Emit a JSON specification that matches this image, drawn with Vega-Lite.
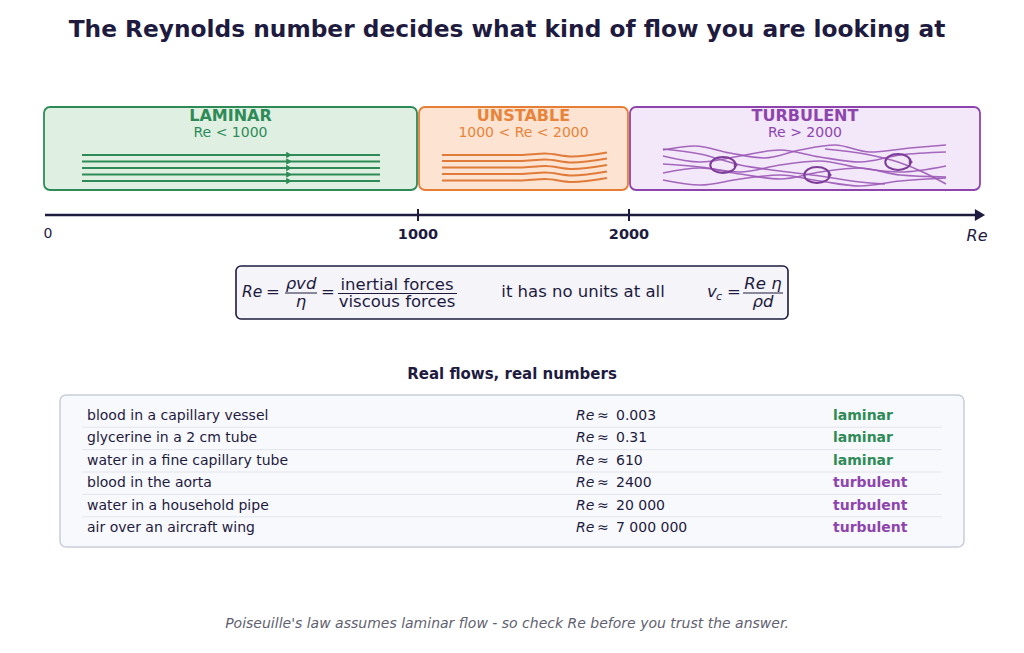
{
  "$schema": "https://vega.github.io/schema/vega-lite/v6.json",
  "width": 1024,
  "height": 653,
  "padding": 0,
  "autosize": {"type": "none"},
  "background": "#ffffff",
  "config": {"view": {"stroke": null}, "font": "DejaVu Sans", "text": {"font": "DejaVu Sans", "baseline": "middle"}},
  "datasets": {
    "regimes": [
      {"regime": "LAMINAR", "condition": "Re < 1000", "lo": 0, "hi": 1000, "mid": 500},
      {"regime": "UNSTABLE", "condition": "1000 < Re < 2000", "lo": 1000, "hi": 2000, "mid": 1500},
      {"regime": "TURBULENT", "condition": "Re > 2000", "lo": 2000, "hi": 3000, "mid": 2500}
    ],
    "ticks": [{"re": 1000}, {"re": 2000}],
    "laminar": [
      {"line": 1, "x": 82, "y": 155}, {"line": 1, "x": 380, "y": 155},
      {"line": 2, "x": 82, "y": 161.5}, {"line": 2, "x": 380, "y": 161.5},
      {"line": 3, "x": 82, "y": 168}, {"line": 3, "x": 380, "y": 168},
      {"line": 4, "x": 82, "y": 174.5}, {"line": 4, "x": 380, "y": 174.5},
      {"line": 5, "x": 82, "y": 181}, {"line": 5, "x": 380, "y": 181}
    ],
    "unstable": [
      {"line": 1, "x": 442, "y": 155}, {"line": 1, "x": 520, "y": 155}, {"line": 1, "x": 545, "y": 153.5}, {"line": 1, "x": 572, "y": 156.5}, {"line": 1, "x": 607, "y": 152.5},
      {"line": 2, "x": 442, "y": 161}, {"line": 2, "x": 520, "y": 161}, {"line": 2, "x": 545, "y": 159.5}, {"line": 2, "x": 572, "y": 162.5}, {"line": 2, "x": 607, "y": 158.5},
      {"line": 3, "x": 442, "y": 167.5}, {"line": 3, "x": 520, "y": 167.5}, {"line": 3, "x": 545, "y": 166}, {"line": 3, "x": 572, "y": 169}, {"line": 3, "x": 607, "y": 165},
      {"line": 4, "x": 442, "y": 174}, {"line": 4, "x": 520, "y": 174}, {"line": 4, "x": 545, "y": 172.5}, {"line": 4, "x": 572, "y": 175.5}, {"line": 4, "x": 607, "y": 171.5},
      {"line": 5, "x": 442, "y": 180.5}, {"line": 5, "x": 520, "y": 180.5}, {"line": 5, "x": 545, "y": 179}, {"line": 5, "x": 572, "y": 182}, {"line": 5, "x": 607, "y": 178}
    ],
    "turbulent": [
      {"line": "t1", "x": 663, "y": 150}, {"line": "t1", "x": 695, "y": 146}, {"line": "t1", "x": 730, "y": 153}, {"line": "t1", "x": 765, "y": 158}, {"line": "t1", "x": 800, "y": 150}, {"line": "t1", "x": 835, "y": 145}, {"line": "t1", "x": 870, "y": 152}, {"line": "t1", "x": 910, "y": 148}, {"line": "t1", "x": 946, "y": 145},
      {"line": "t2", "x": 663, "y": 156}, {"line": "t2", "x": 700, "y": 162}, {"line": "t2", "x": 740, "y": 156}, {"line": "t2", "x": 780, "y": 150}, {"line": "t2", "x": 820, "y": 157}, {"line": "t2", "x": 860, "y": 162}, {"line": "t2", "x": 900, "y": 155}, {"line": "t2", "x": 946, "y": 152},
      {"line": "t3", "x": 663, "y": 164}, {"line": "t3", "x": 700, "y": 167}, {"line": "t3", "x": 740, "y": 172}, {"line": "t3", "x": 780, "y": 165}, {"line": "t3", "x": 820, "y": 161}, {"line": "t3", "x": 860, "y": 168}, {"line": "t3", "x": 900, "y": 172}, {"line": "t3", "x": 946, "y": 166},
      {"line": "t4", "x": 663, "y": 173}, {"line": "t4", "x": 700, "y": 168}, {"line": "t4", "x": 740, "y": 174}, {"line": "t4", "x": 780, "y": 179}, {"line": "t4", "x": 820, "y": 172}, {"line": "t4", "x": 860, "y": 168}, {"line": "t4", "x": 900, "y": 175}, {"line": "t4", "x": 946, "y": 177},
      {"line": "t5", "x": 663, "y": 180}, {"line": "t5", "x": 700, "y": 185}, {"line": "t5", "x": 740, "y": 179}, {"line": "t5", "x": 780, "y": 175}, {"line": "t5", "x": 820, "y": 181}, {"line": "t5", "x": 860, "y": 186}, {"line": "t5", "x": 900, "y": 181}, {"line": "t5", "x": 946, "y": 178},
      {"line": "d1", "x": 663, "y": 149}, {"line": "d1", "x": 700, "y": 154}, {"line": "d1", "x": 740, "y": 165}, {"line": "d1", "x": 780, "y": 171}, {"line": "d1", "x": 820, "y": 176}, {"line": "d1", "x": 860, "y": 182}, {"line": "d1", "x": 885, "y": 184},
      {"line": "d2", "x": 825, "y": 149}, {"line": "d2", "x": 865, "y": 154}, {"line": "d2", "x": 898, "y": 162}, {"line": "d2", "x": 925, "y": 173}, {"line": "d2", "x": 946, "y": 184}
    ],
    "eddies": [{"x": 723, "y": 165}, {"x": 817, "y": 175}, {"x": 898, "y": 162}],
    "flows": [
      {"flow": "blood in a capillary vessel", "re": "0.003", "regime": "laminar"},
      {"flow": "glycerine in a 2 cm tube", "re": "0.31", "regime": "laminar"},
      {"flow": "water in a fine capillary tube", "re": "610", "regime": "laminar"},
      {"flow": "blood in the aorta", "re": "2400", "regime": "turbulent"},
      {"flow": "water in a household pipe", "re": "20 000", "regime": "turbulent"},
      {"flow": "air over an aircraft wing", "re": "7 000 000", "regime": "turbulent"}
    ]
  },
  "layer": [
    {
      "data": {"name": "regimes"},
      "layer": [
        {
          "mark": {"type": "rect", "cornerRadius": 6, "strokeWidth": 1.8, "xOffset": 1, "x2Offset": -1},
          "encoding": {
            "x": {"field": "lo", "type": "quantitative", "scale": {"domain": [0, 1000, 2000, 3000], "range": [43, 418, 629, 981], "nice": false, "zero": false}, "axis": null},
            "x2": {"field": "hi"},
            "y": {"datum": 107, "type": "quantitative", "scale": {"domain": [0, 653], "range": [0, 653], "nice": false, "zero": false}, "axis": null},
            "y2": {"datum": 190},
            "fill": {"field": "regime", "type": "nominal", "scale": {"domain": ["LAMINAR", "UNSTABLE", "TURBULENT"], "range": ["#dff0e2", "#fde3d2", "#f3e7fa"]}, "legend": null},
            "stroke": {"field": "regime", "type": "nominal", "scale": {"domain": ["LAMINAR", "UNSTABLE", "TURBULENT"], "range": ["#2e8b57", "#e67e35", "#8e44ad"]}, "legend": null}
          }
        },
        {
          "mark": {"type": "text", "fontSize": 16, "fontWeight": "bold", "align": "center"},
          "encoding": {
            "x": {"field": "mid", "type": "quantitative", "scale": {"domain": [0, 1000, 2000, 3000], "range": [43, 418, 629, 981], "nice": false, "zero": false}, "axis": null},
            "y": {"datum": 116, "type": "quantitative", "scale": {"domain": [0, 653], "range": [0, 653], "nice": false, "zero": false}, "axis": null},
            "text": {"field": "regime"},
            "color": {"field": "regime", "type": "nominal", "scale": {"domain": ["LAMINAR", "UNSTABLE", "TURBULENT"], "range": ["#2e8b57", "#e8833a", "#8e44ad"]}, "legend": null}
          }
        },
        {
          "mark": {"type": "text", "fontSize": 14, "align": "center"},
          "encoding": {
            "x": {"field": "mid", "type": "quantitative", "scale": {"domain": [0, 1000, 2000, 3000], "range": [43, 418, 629, 981], "nice": false, "zero": false}, "axis": null},
            "y": {"datum": 132.5, "type": "quantitative", "scale": {"domain": [0, 653], "range": [0, 653], "nice": false, "zero": false}, "axis": null},
            "text": {"field": "condition"},
            "color": {"field": "regime", "type": "nominal", "scale": {"domain": ["LAMINAR", "UNSTABLE", "TURBULENT"], "range": ["#2e8b57", "#e8833a", "#8e44ad"]}, "legend": null}
          }
        },
        {
          "data": {"name": "ticks"},
          "mark": {"type": "rule", "strokeWidth": 2, "color": "#1e1b3f"},
          "encoding": {
            "x": {"field": "re", "type": "quantitative", "scale": {"domain": [0, 1000, 2000, 3000], "range": [43, 418, 629, 981], "nice": false, "zero": false}, "axis": null},
            "y": {"datum": 209, "type": "quantitative", "scale": {"domain": [0, 653], "range": [0, 653], "nice": false, "zero": false}, "axis": null},
            "y2": {"datum": 221}
          }
        },
        {
          "data": {"name": "ticks"},
          "mark": {"type": "text", "fontSize": 14.5, "fontWeight": "bold", "align": "center", "color": "#1e1b3f"},
          "encoding": {
            "x": {"field": "re", "type": "quantitative", "scale": {"domain": [0, 1000, 2000, 3000], "range": [43, 418, 629, 981], "nice": false, "zero": false}, "axis": null},
            "y": {"datum": 235, "type": "quantitative", "scale": {"domain": [0, 653], "range": [0, 653], "nice": false, "zero": false}, "axis": null},
            "text": {"field": "re", "type": "quantitative", "format": "d"}
          }
        }
      ]
    },
    {
      "data": {"values": [{}]},
      "layer": [
        {
          "mark": {"type": "text", "fontSize": 23.3, "fontWeight": "bold", "align": "center", "color": "#1e1b3f"},
          "encoding": {
            "x": {"datum": 507, "type": "quantitative", "scale": {"domain": [0, 1024], "range": [0, 1024], "nice": false, "zero": false}, "axis": null},
            "y": {"datum": 30, "type": "quantitative", "scale": {"domain": [0, 653], "range": [0, 653], "nice": false, "zero": false}, "axis": null},
            "text": {"value": "The Reynolds number decides what kind of flow you are looking at"}
          }
        },
        {
          "data": {"name": "laminar"},
          "mark": {"type": "line", "color": "#2e8b57", "strokeWidth": 2},
          "encoding": {
            "x": {"field": "x", "type": "quantitative", "scale": {"domain": [0, 1024], "range": [0, 1024], "nice": false, "zero": false}, "axis": null},
            "y": {"field": "y", "type": "quantitative", "scale": {"domain": [0, 653], "range": [0, 653], "nice": false, "zero": false}, "axis": null},
            "detail": {"field": "line", "type": "nominal"}
          }
        },
        {
          "data": {"name": "laminar"},
          "mark": {"type": "point", "shape": "triangle-right", "filled": true, "size": 36, "color": "#2e8b57", "opacity": 1},
          "encoding": {
            "x": {"datum": 289, "type": "quantitative", "scale": {"domain": [0, 1024], "range": [0, 1024], "nice": false, "zero": false}, "axis": null},
            "y": {"field": "y", "type": "quantitative", "scale": {"domain": [0, 653], "range": [0, 653], "nice": false, "zero": false}, "axis": null}
          }
        },
        {
          "data": {"name": "unstable"},
          "mark": {"type": "line", "color": "#e07b39", "strokeWidth": 2, "interpolate": "monotone"},
          "encoding": {
            "x": {"field": "x", "type": "quantitative", "scale": {"domain": [0, 1024], "range": [0, 1024], "nice": false, "zero": false}, "axis": null},
            "y": {"field": "y", "type": "quantitative", "scale": {"domain": [0, 653], "range": [0, 653], "nice": false, "zero": false}, "axis": null},
            "detail": {"field": "line", "type": "nominal"}
          }
        },
        {
          "data": {"name": "turbulent"},
          "mark": {"type": "line", "color": "#9b59b6", "strokeWidth": 1.6, "interpolate": "monotone", "opacity": 0.9},
          "encoding": {
            "x": {"field": "x", "type": "quantitative", "scale": {"domain": [0, 1024], "range": [0, 1024], "nice": false, "zero": false}, "axis": null},
            "y": {"field": "y", "type": "quantitative", "scale": {"domain": [0, 653], "range": [0, 653], "nice": false, "zero": false}, "axis": null},
            "detail": {"field": "line", "type": "nominal"}
          }
        },
        {
          "data": {"name": "eddies"},
          "mark": {"type": "point", "shape": "M -1 0 A 1 0.62 0 1 0 1 0 A 1 0.62 0 1 0 -1 0 Z", "filled": false, "size": 650, "color": "#7d3c98", "strokeWidth": 2, "opacity": 1},
          "encoding": {
            "x": {"field": "x", "type": "quantitative", "scale": {"domain": [0, 1024], "range": [0, 1024], "nice": false, "zero": false}, "axis": null},
            "y": {"field": "y", "type": "quantitative", "scale": {"domain": [0, 653], "range": [0, 653], "nice": false, "zero": false}, "axis": null}
          }
        },
        {
          "data": {"name": "eddies"},
          "mark": {"type": "point", "shape": "triangle-right", "filled": true, "size": 25, "color": "#7d3c98", "xOffset": 13, "opacity": 1},
          "encoding": {
            "x": {"field": "x", "type": "quantitative", "scale": {"domain": [0, 1024], "range": [0, 1024], "nice": false, "zero": false}, "axis": null},
            "y": {"field": "y", "type": "quantitative", "scale": {"domain": [0, 653], "range": [0, 653], "nice": false, "zero": false}, "axis": null}
          }
        },
        {
          "mark": {"type": "rule", "color": "#1e1b3f", "strokeWidth": 2.5},
          "encoding": {
            "x": {"datum": 45, "type": "quantitative", "scale": {"domain": [0, 1024], "range": [0, 1024], "nice": false, "zero": false}, "axis": null},
            "x2": {"datum": 978},
            "y": {"datum": 215, "type": "quantitative", "scale": {"domain": [0, 653], "range": [0, 653], "nice": false, "zero": false}, "axis": null}
          }
        },
        {
          "mark": {"type": "point", "shape": "triangle-right", "filled": true, "size": 140, "color": "#1e1b3f", "opacity": 1},
          "encoding": {
            "x": {"datum": 980, "type": "quantitative", "scale": {"domain": [0, 1024], "range": [0, 1024], "nice": false, "zero": false}, "axis": null},
            "y": {"datum": 215, "type": "quantitative", "scale": {"domain": [0, 653], "range": [0, 653], "nice": false, "zero": false}, "axis": null}
          }
        },
        {
          "mark": {"type": "text", "fontSize": 14, "align": "center", "color": "#1e1b3f"},
          "encoding": {
            "x": {"datum": 48, "type": "quantitative", "scale": {"domain": [0, 1024], "range": [0, 1024], "nice": false, "zero": false}, "axis": null},
            "y": {"datum": 234, "type": "quantitative", "scale": {"domain": [0, 653], "range": [0, 653], "nice": false, "zero": false}, "axis": null},
            "text": {"value": "0"}
          }
        },
        {
          "mark": {"type": "text", "fontSize": 16, "fontStyle": "italic", "align": "center", "color": "#1e1b3f"},
          "encoding": {
            "x": {"datum": 977, "type": "quantitative", "scale": {"domain": [0, 1024], "range": [0, 1024], "nice": false, "zero": false}, "axis": null},
            "y": {"datum": 236, "type": "quantitative", "scale": {"domain": [0, 653], "range": [0, 653], "nice": false, "zero": false}, "axis": null},
            "text": {"value": "Re"}
          }
        },
        {
          "mark": {"type": "rect", "cornerRadius": 5, "fill": "#f4f4f9", "stroke": "#1e1b3f", "strokeWidth": 1.6},
          "encoding": {
            "x": {"datum": 236, "type": "quantitative", "scale": {"domain": [0, 1024], "range": [0, 1024], "nice": false, "zero": false}, "axis": null},
            "x2": {"datum": 788},
            "y": {"datum": 266, "type": "quantitative", "scale": {"domain": [0, 653], "range": [0, 653], "nice": false, "zero": false}, "axis": null},
            "y2": {"datum": 319}
          }
        },
        {
          "mark": {"type": "text", "fontSize": 15.5, "fontStyle": "italic", "align": "left", "color": "#1e1b3f"},
          "encoding": {
            "x": {"datum": 242, "type": "quantitative", "scale": {"domain": [0, 1024], "range": [0, 1024], "nice": false, "zero": false}, "axis": null},
            "y": {"datum": 292, "type": "quantitative", "scale": {"domain": [0, 653], "range": [0, 653], "nice": false, "zero": false}, "axis": null},
            "text": {"value": "Re"}
          }
        },
        {
          "mark": {"type": "text", "fontSize": 16.5, "align": "center", "color": "#1e1b3f"},
          "encoding": {
            "x": {"datum": 273, "type": "quantitative", "scale": {"domain": [0, 1024], "range": [0, 1024], "nice": false, "zero": false}, "axis": null},
            "y": {"datum": 292, "type": "quantitative", "scale": {"domain": [0, 653], "range": [0, 653], "nice": false, "zero": false}, "axis": null},
            "text": {"value": "="}
          }
        },
        {
          "mark": {"type": "text", "fontSize": 16.5, "fontStyle": "italic", "align": "center", "color": "#1e1b3f"},
          "encoding": {
            "x": {"datum": 301, "type": "quantitative", "scale": {"domain": [0, 1024], "range": [0, 1024], "nice": false, "zero": false}, "axis": null},
            "y": {"datum": 284, "type": "quantitative", "scale": {"domain": [0, 653], "range": [0, 653], "nice": false, "zero": false}, "axis": null},
            "text": {"value": "ρvd"}
          }
        },
        {
          "mark": {"type": "rule", "color": "#1e1b3f", "strokeWidth": 1},
          "encoding": {
            "x": {"datum": 285, "type": "quantitative", "scale": {"domain": [0, 1024], "range": [0, 1024], "nice": false, "zero": false}, "axis": null},
            "x2": {"datum": 317},
            "y": {"datum": 293, "type": "quantitative", "scale": {"domain": [0, 653], "range": [0, 653], "nice": false, "zero": false}, "axis": null}
          }
        },
        {
          "mark": {"type": "text", "fontSize": 16.5, "fontStyle": "italic", "align": "center", "color": "#1e1b3f"},
          "encoding": {
            "x": {"datum": 301, "type": "quantitative", "scale": {"domain": [0, 1024], "range": [0, 1024], "nice": false, "zero": false}, "axis": null},
            "y": {"datum": 302, "type": "quantitative", "scale": {"domain": [0, 653], "range": [0, 653], "nice": false, "zero": false}, "axis": null},
            "text": {"value": "η"}
          }
        },
        {
          "mark": {"type": "text", "fontSize": 16.5, "align": "center", "color": "#1e1b3f"},
          "encoding": {
            "x": {"datum": 328, "type": "quantitative", "scale": {"domain": [0, 1024], "range": [0, 1024], "nice": false, "zero": false}, "axis": null},
            "y": {"datum": 292, "type": "quantitative", "scale": {"domain": [0, 653], "range": [0, 653], "nice": false, "zero": false}, "axis": null},
            "text": {"value": "="}
          }
        },
        {
          "mark": {"type": "text", "fontSize": 16.5, "align": "center", "color": "#1e1b3f"},
          "encoding": {
            "x": {"datum": 397, "type": "quantitative", "scale": {"domain": [0, 1024], "range": [0, 1024], "nice": false, "zero": false}, "axis": null},
            "y": {"datum": 285, "type": "quantitative", "scale": {"domain": [0, 653], "range": [0, 653], "nice": false, "zero": false}, "axis": null},
            "text": {"value": "inertial forces"}
          }
        },
        {
          "mark": {"type": "rule", "color": "#1e1b3f", "strokeWidth": 1},
          "encoding": {
            "x": {"datum": 338, "type": "quantitative", "scale": {"domain": [0, 1024], "range": [0, 1024], "nice": false, "zero": false}, "axis": null},
            "x2": {"datum": 457},
            "y": {"datum": 293.5, "type": "quantitative", "scale": {"domain": [0, 653], "range": [0, 653], "nice": false, "zero": false}, "axis": null}
          }
        },
        {
          "mark": {"type": "text", "fontSize": 16.5, "align": "center", "color": "#1e1b3f"},
          "encoding": {
            "x": {"datum": 397, "type": "quantitative", "scale": {"domain": [0, 1024], "range": [0, 1024], "nice": false, "zero": false}, "axis": null},
            "y": {"datum": 302, "type": "quantitative", "scale": {"domain": [0, 653], "range": [0, 653], "nice": false, "zero": false}, "axis": null},
            "text": {"value": "viscous forces"}
          }
        },
        {
          "mark": {"type": "text", "fontSize": 16.5, "align": "center", "color": "#1e1b3f"},
          "encoding": {
            "x": {"datum": 583, "type": "quantitative", "scale": {"domain": [0, 1024], "range": [0, 1024], "nice": false, "zero": false}, "axis": null},
            "y": {"datum": 292, "type": "quantitative", "scale": {"domain": [0, 653], "range": [0, 653], "nice": false, "zero": false}, "axis": null},
            "text": {"value": "it has no units at all"}
          }
        },
        {
          "mark": {"type": "text", "fontSize": 16.5, "fontStyle": "italic", "align": "left", "color": "#1e1b3f"},
          "encoding": {
            "x": {"datum": 707, "type": "quantitative", "scale": {"domain": [0, 1024], "range": [0, 1024], "nice": false, "zero": false}, "axis": null},
            "y": {"datum": 292, "type": "quantitative", "scale": {"domain": [0, 653], "range": [0, 653], "nice": false, "zero": false}, "axis": null},
            "text": {"value": "v"}
          }
        },
        {
          "mark": {"type": "text", "fontSize": 11, "fontStyle": "italic", "align": "left", "color": "#1e1b3f"},
          "encoding": {
            "x": {"datum": 716, "type": "quantitative", "scale": {"domain": [0, 1024], "range": [0, 1024], "nice": false, "zero": false}, "axis": null},
            "y": {"datum": 297, "type": "quantitative", "scale": {"domain": [0, 653], "range": [0, 653], "nice": false, "zero": false}, "axis": null},
            "text": {"value": "c"}
          }
        },
        {
          "mark": {"type": "text", "fontSize": 16.5, "align": "center", "color": "#1e1b3f"},
          "encoding": {
            "x": {"datum": 734, "type": "quantitative", "scale": {"domain": [0, 1024], "range": [0, 1024], "nice": false, "zero": false}, "axis": null},
            "y": {"datum": 292, "type": "quantitative", "scale": {"domain": [0, 653], "range": [0, 653], "nice": false, "zero": false}, "axis": null},
            "text": {"value": "="}
          }
        },
        {
          "mark": {"type": "text", "fontSize": 16.5, "fontStyle": "italic", "align": "center", "color": "#1e1b3f"},
          "encoding": {
            "x": {"datum": 763, "type": "quantitative", "scale": {"domain": [0, 1024], "range": [0, 1024], "nice": false, "zero": false}, "axis": null},
            "y": {"datum": 284, "type": "quantitative", "scale": {"domain": [0, 653], "range": [0, 653], "nice": false, "zero": false}, "axis": null},
            "text": {"value": "Re η"}
          }
        },
        {
          "mark": {"type": "rule", "color": "#1e1b3f", "strokeWidth": 1},
          "encoding": {
            "x": {"datum": 743, "type": "quantitative", "scale": {"domain": [0, 1024], "range": [0, 1024], "nice": false, "zero": false}, "axis": null},
            "x2": {"datum": 783},
            "y": {"datum": 293, "type": "quantitative", "scale": {"domain": [0, 653], "range": [0, 653], "nice": false, "zero": false}, "axis": null}
          }
        },
        {
          "mark": {"type": "text", "fontSize": 16.5, "fontStyle": "italic", "align": "center", "color": "#1e1b3f"},
          "encoding": {
            "x": {"datum": 763, "type": "quantitative", "scale": {"domain": [0, 1024], "range": [0, 1024], "nice": false, "zero": false}, "axis": null},
            "y": {"datum": 302, "type": "quantitative", "scale": {"domain": [0, 653], "range": [0, 653], "nice": false, "zero": false}, "axis": null},
            "text": {"value": "ρd"}
          }
        },
        {
          "mark": {"type": "text", "fontSize": 15, "fontWeight": "bold", "align": "center", "color": "#1e1b3f"},
          "encoding": {
            "x": {"datum": 512, "type": "quantitative", "scale": {"domain": [0, 1024], "range": [0, 1024], "nice": false, "zero": false}, "axis": null},
            "y": {"datum": 374, "type": "quantitative", "scale": {"domain": [0, 653], "range": [0, 653], "nice": false, "zero": false}, "axis": null},
            "text": {"value": "Real flows, real numbers"}
          }
        },
        {
          "mark": {"type": "rect", "cornerRadius": 6, "fill": "#f8f9fc", "stroke": "#c9cdd8", "strokeWidth": 1.5},
          "encoding": {
            "x": {"datum": 60, "type": "quantitative", "scale": {"domain": [0, 1024], "range": [0, 1024], "nice": false, "zero": false}, "axis": null},
            "x2": {"datum": 964},
            "y": {"datum": 395, "type": "quantitative", "scale": {"domain": [0, 653], "range": [0, 653], "nice": false, "zero": false}, "axis": null},
            "y2": {"datum": 547}
          }
        },
        {
          "mark": {"type": "text", "fontSize": 14, "fontStyle": "italic", "align": "center", "color": "#616170"},
          "encoding": {
            "x": {"datum": 507, "type": "quantitative", "scale": {"domain": [0, 1024], "range": [0, 1024], "nice": false, "zero": false}, "axis": null},
            "y": {"datum": 624, "type": "quantitative", "scale": {"domain": [0, 653], "range": [0, 653], "nice": false, "zero": false}, "axis": null},
            "text": {"value": "Poiseuille's law assumes laminar flow - so check Re before you trust the answer."}
          }
        }
      ]
    },
    {
      "data": {"name": "flows"},
      "layer": [
        {
          "transform": [{"filter": "datum.flow !== 'air over an aircraft wing'"}],
          "mark": {"type": "rule", "color": "#e2e5ec", "strokeWidth": 1, "yOffset": 11.2},
          "encoding": {
            "x": {"datum": 82, "type": "quantitative", "scale": {"domain": [0, 1024], "range": [0, 1024], "nice": false, "zero": false}, "axis": null},
            "x2": {"datum": 942},
            "y": {"field": "flow", "type": "nominal", "sort": null, "scale": {"type": "point", "range": [416, 528], "padding": 0}, "axis": null}
          }
        },
        {
          "mark": {"type": "text", "fontSize": 14, "align": "left", "color": "#1e1b3f"},
          "encoding": {
            "x": {"datum": 87, "type": "quantitative", "scale": {"domain": [0, 1024], "range": [0, 1024], "nice": false, "zero": false}, "axis": null},
            "y": {"field": "flow", "type": "nominal", "sort": null, "scale": {"type": "point", "range": [416, 528], "padding": 0}, "axis": null},
            "text": {"field": "flow"}
          }
        },
        {
          "mark": {"type": "text", "fontSize": 14, "fontStyle": "italic", "align": "left", "color": "#1e1b3f"},
          "encoding": {
            "x": {"datum": 576, "type": "quantitative", "scale": {"domain": [0, 1024], "range": [0, 1024], "nice": false, "zero": false}, "axis": null},
            "y": {"field": "flow", "type": "nominal", "sort": null, "scale": {"type": "point", "range": [416, 528], "padding": 0}, "axis": null},
            "text": {"value": "Re"}
          }
        },
        {
          "mark": {"type": "text", "fontSize": 14, "align": "left", "color": "#1e1b3f"},
          "encoding": {
            "x": {"datum": 597, "type": "quantitative", "scale": {"domain": [0, 1024], "range": [0, 1024], "nice": false, "zero": false}, "axis": null},
            "y": {"field": "flow", "type": "nominal", "sort": null, "scale": {"type": "point", "range": [416, 528], "padding": 0}, "axis": null},
            "text": {"value": "≈"}
          }
        },
        {
          "mark": {"type": "text", "fontSize": 14, "align": "left", "color": "#1e1b3f"},
          "encoding": {
            "x": {"datum": 616, "type": "quantitative", "scale": {"domain": [0, 1024], "range": [0, 1024], "nice": false, "zero": false}, "axis": null},
            "y": {"field": "flow", "type": "nominal", "sort": null, "scale": {"type": "point", "range": [416, 528], "padding": 0}, "axis": null},
            "text": {"field": "re"}
          }
        },
        {
          "mark": {"type": "text", "fontSize": 14, "fontWeight": "bold", "align": "left"},
          "encoding": {
            "x": {"datum": 833, "type": "quantitative", "scale": {"domain": [0, 1024], "range": [0, 1024], "nice": false, "zero": false}, "axis": null},
            "y": {"field": "flow", "type": "nominal", "sort": null, "scale": {"type": "point", "range": [416, 528], "padding": 0}, "axis": null},
            "text": {"field": "regime"},
            "color": {"field": "regime", "type": "nominal", "scale": {"domain": ["laminar", "turbulent"], "range": ["#2e8b57", "#8e44ad"]}, "legend": null}
          }
        }
      ]
    }
  ],
  "resolve": {"scale": {"x": "independent", "y": "independent", "color": "independent"}}
}
